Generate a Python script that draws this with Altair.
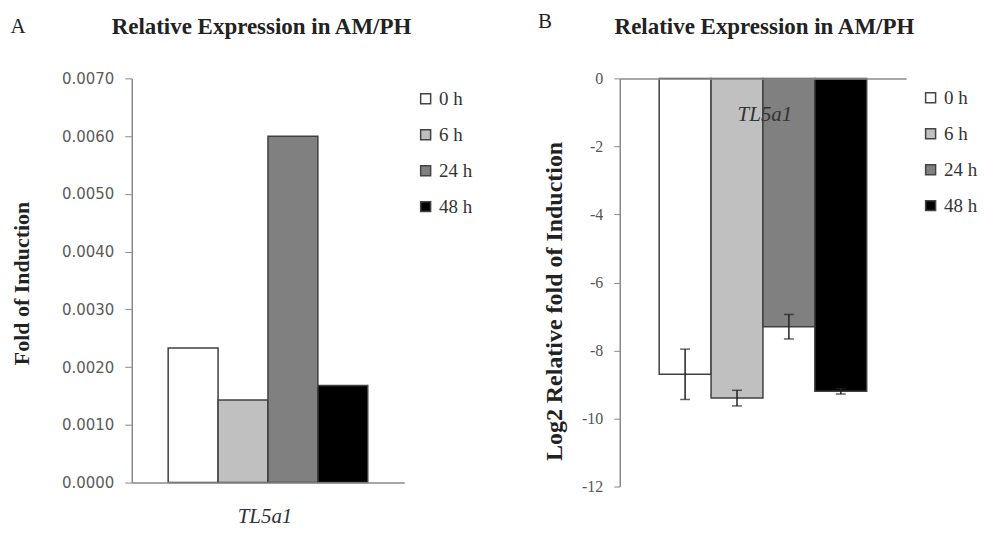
import altair as alt
import pandas as pd

# ---------------- data ----------------
times = ["0 h", "6 h", "24 h", "48 h"]
fills = ["#ffffff", "#c0c0c0", "#808080", "#000000"]
fold_a = [0.00233, 0.00143, 0.0060, 0.00168]
log2_b = [-8.7, -9.4, -7.3, -9.2]
err_b = [0.74, 0.23, 0.36, 0.08]
gene = "TL5a1"
panel_title = "Relative Expression in AM/PH"
y_ticks_a = [0.0, 0.001, 0.002, 0.003, 0.004, 0.005, 0.006, 0.007]
y_ticks_b = [-12, -10, -8, -6, -4, -2, 0]

df_a = pd.DataFrame({"time": times, "fold": fold_a})
df_b = pd.DataFrame({
    "time": times,
    "log2": log2_b,
    "lo": [v - e for v, e in zip(log2_b, err_b)],
    "hi": [v + e for v, e in zip(log2_b, err_b)],
})
df_title = pd.DataFrame({"label": [panel_title]})
df_letter_a = pd.DataFrame({"label": ["A"]})
df_letter_b = pd.DataFrame({"label": ["B"]})

AXIS_GRAY = "#8a8a8a"
SERIF = "Liberation Serif"


def color_enc(lx, ly):
    return alt.Color(
        "time:N",
        sort=times,
        scale=alt.Scale(domain=times, range=fills),
        legend=alt.Legend(
            title=None, orient="none", legendX=lx, legendY=ly,
            symbolType="square", symbolSize=100, symbolStrokeColor="#444444",
            symbolStrokeWidth=1.5, labelFont=SERIF, labelFontSize=19,
            labelColor="#333333", labelOffset=4, rowPadding=16,
        ),
    )


def x_enc(pad_outer, title_x, title_y, orient):
    return alt.X(
        "time:N", sort=times,
        scale=alt.Scale(paddingInner=0, paddingOuter=pad_outer),
        axis=alt.Axis(
            orient=orient, labels=False, ticks=False, domainColor=AXIS_GRAY,
            domainWidth=1.5, title=gene, titleFont=SERIF, titleFontStyle="italic",
            titleFontWeight="normal", titleFontSize=21, titleColor="#333333",
            titleX=title_x, titleY=title_y, titleBaseline="middle", titleAlign="center",
            zindex=1,
        ),
    )


def texts(cx):
    title = alt.Chart(df_title).mark_text(
        font=SERIF, fontSize=23, fontWeight="bold", color="#222222",
        align="center", baseline="middle",
    ).encode(text="label:N", x=alt.value(cx), y=alt.value(-51))
    return title


# ---------------- panel A ----------------
W_A, H_A = 273, 405
bars_a = alt.Chart(df_a).mark_bar(stroke="#404040", strokeWidth=1.5).encode(
    x=x_enc(0.73, 133, 34, "bottom"),
    y=alt.Y(
        "fold:Q",
        scale=alt.Scale(domain=[0, 0.007], nice=False),
        axis=alt.Axis(
            values=y_ticks_a, format=".4f", grid=False, domainColor=AXIS_GRAY,
            domainWidth=1.5, tickColor=AXIS_GRAY, tickSize=7, labelFont="DejaVu Sans",
            labelFontSize=15, labelColor="#5a5a5a", labelPadding=11,
            title="Fold of Induction", titleFont=SERIF, titleFontSize=22,
            titleFontWeight="bold", titleColor="#222222", titleX=-110, titleY=205,
            titleAngle=-90, titleBaseline="middle", titleAlign="center",
        ),
    ),
    color=color_enc(285, 11),
)
letter_a = alt.Chart(df_letter_a).mark_text(
    font=SERIF, fontSize=21, color="#222222", align="center", baseline="middle"
).encode(text="label:N", x=alt.value(-114), y=alt.value(-51))

left = alt.layer(bars_a, texts(130), letter_a).properties(width=W_A, height=H_A)

# ---------------- panel B ----------------
W_B, H_B = 287, 409
base_b = alt.Chart(df_b)
x_b = x_enc(0.76, 145, 36, "top")
bars_b = base_b.mark_bar(stroke="#404040", strokeWidth=1.5).encode(
    x=x_b,
    y=alt.Y(
        "log2:Q",
        scale=alt.Scale(domain=[-12, 0], nice=False),
        axis=alt.Axis(
            values=y_ticks_b, labelExpr="'' + datum.value", grid=False,
            domainColor=AXIS_GRAY, domainWidth=1.5, tickColor=AXIS_GRAY, tickSize=6,
            labelFont=SERIF, labelFontSize=16, labelColor="#555555", labelPadding=11,
            title="Log2 Relative fold of Induction", titleFont=SERIF, titleFontSize=24,
            titleFontWeight="bold", titleColor="#222222", titleX=-65, titleY=223,
            titleAngle=-90, titleBaseline="middle", titleAlign="center",
        ),
    ),
    color=color_enc(302, 10),
)
rule_b = base_b.mark_rule(color="#222222", strokeWidth=1.5).encode(
    x=alt.X("time:N", sort=times), y="lo:Q", y2="hi:Q"
)
cap_lo = base_b.mark_tick(color="#222222", thickness=1.5, size=10).encode(
    x=alt.X("time:N", sort=times), y="lo:Q"
)
cap_hi = base_b.mark_tick(color="#222222", thickness=1.5, size=10).encode(
    x=alt.X("time:N", sort=times), y="hi:Q"
)
letter_b = alt.Chart(df_letter_b).mark_text(
    font=SERIF, fontSize=21, color="#222222", align="center", baseline="middle"
).encode(text="label:N", x=alt.value(-75), y=alt.value(-56))

right = alt.layer(bars_b, rule_b, cap_lo, cap_hi, texts(145), letter_b).properties(
    width=W_B, height=H_B
)

chart = (
    alt.hconcat(left, right, spacing=216, bounds="flush")
    .resolve_scale(color="independent")
    .resolve_legend(color="independent")
    .properties(padding={"left": 2, "top": 3, "right": 0, "bottom": 0}, background="white")
    .configure_view(stroke=None)
)

chart.save("out.html", embed_options={"renderer": "svg", "actions": False})
